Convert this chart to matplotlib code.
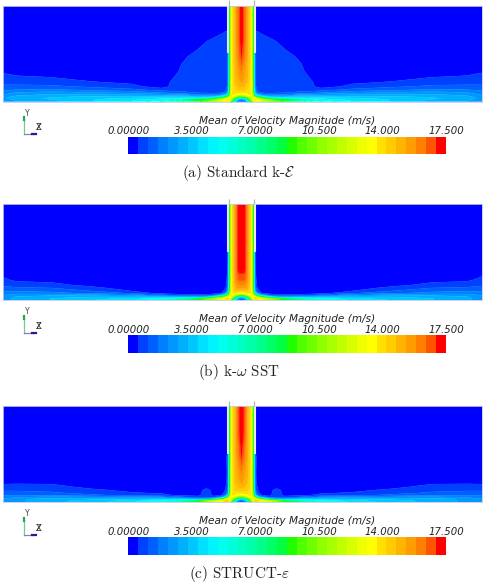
import matplotlib
matplotlib.use('Agg')
import matplotlib.pyplot as plt
import numpy as np
from matplotlib.colors import BoundaryNorm, ListedColormap

W, H = 486, 588

# velocity scale, 32 bands
V_MAX = 17.5
BAND_COLORS = [
    '#0000ff', '#0040ff', '#0060ff', '#0080ff', '#0098ff', '#00b0ff', '#00c8ff', '#00e0ff',
    '#00f4ff', '#00ffee', '#00ffd8', '#00ffc0', '#00ffa8', '#00ff88', '#00ff66', '#00ff40',
    '#20ff00', '#50ff00', '#70ff00', '#90ff00', '#a8ff00', '#c0ff00', '#d8ff00', '#f0ff00',
    '#ffff00', '#ffe000', '#ffcc00', '#ffb400', '#ff9c00', '#ff8000', '#ff5500', '#ff0000',
]
TICK_VALUES = [0.0, 3.5, 7.0, 10.5, 14.0, 17.5]
TICK_LABELS = ['0.00000', '3.5000', '7.0000', '10.500', '14.000', '17.500']

# sampling stations: distance from the jet axis, height above the plate
R = [0, 3, 6, 9, 11, 12.5, 14, 16, 20, 28, 35, 43, 60, 70, 80, 110, 150, 190, 225, 241]
Z = [0, 1.5, 3, 5, 7, 9, 12, 15, 20, 30, 45, 60, 72, 96]

# mean velocity magnitude, one row per height in Z, one column per station in R
SPEED_KE = [
    [1, 1.5, 4, 7, 10, 12.5, 13, 12.5, 11.5, 10, 9, 8.5, 7, 6, 5.5, 4.4, 3.8, 3.2, 2.8, 2.4],
    [1.5, 2.5, 5.5, 10, 12.5, 14, 14, 13.5, 12.5, 11, 9.5, 9, 6.5, 5.6, 5, 4.3, 3.8, 3.2, 2.8, 2.4],
    [3.5, 4.5, 8, 11, 13, 13.5, 13, 12, 10, 7.5, 6, 5.5, 4.8, 4.4, 4.3, 4, 3.7, 3.4, 3, 2.6],
    [9.5, 10, 11.5, 12.5, 12.5, 11, 9, 7, 5, 3.2, 3, 3, 3.5, 3.4, 3.4, 3.4, 3.3, 3.2, 2.9, 2.4],
    [13, 13, 13.5, 14, 12, 8, 5, 3, 2, 1.4, 1.5, 1.6, 2.2, 2.2, 2.4, 2.6, 2.7, 2.8, 2.5, 2.1],
    [14, 14, 14, 14, 11.5, 6, 2.5, 1.2, 1, .9, 1, 1, 1.3, 1.4, 1.6, 2, 2.2, 2.4, 2.2, 1.9],
    [14.5, 14.5, 14.2, 14, 11, 5.5, 1.5, 1, .8, .8, .8, .8, .8, .75, .8, 1.2, 1.4, 1.7, 1.6, 1.5],
    [15, 14.8, 14.4, 14, 11, 5, 1.2, .8, .8, .8, .8, .8, .8, .65, .3, .7, 1, 1.2, 1.2, 1.2],
    [15.5, 15.2, 14.8, 14, 11, 5, 1, .8, .8, .8, .8, .8, .8, .6, .2, .4, .55, .8, .9, .9],
    [16, 15.5, 15, 14, 11, 5, .8, .8, .8, .8, .8, .8, .7, .2, .2, .2, .2, .2, .3, .5],
    [17, 16.2, 15.2, 14, 11, 5, .8, .8, .8, .8, .8, .8, .4, .2, .2, .2, .2, .2, .2, .2],
    [17.4, 16.5, 15.2, 14, 11, 5, .8, .8, .8, .7, .55, .3, .2, .2, .2, .2, .2, .2, .2, .2],
    [17.4, 16.5, 15.2, 14, 11, 5, .5, .5, .4, .2, .2, .2, .2, .2, .2, .2, .2, .2, .2, .2],
    [17.4, 16.5, 15.2, 14, 11, 5, .2, .2, .2, .2, .2, .2, .2, .2, .2, .2, .2, .2, .2, .2],
]
SPEED_SST = [
    [1, 1.5, 4, 7, 10.5, 12.5, 13.5, 13.5, 12.5, 11, 10, 8.5, 7, 6, 5.5, 4.2, 3.8, 3.3, 2.9, 2.4],
    [1.5, 2.5, 5.5, 10, 12.5, 14, 14.5, 14, 13, 11.5, 10, 8.5, 6.5, 5.5, 5, 4, 3.6, 3.3, 2.9, 2.4],
    [3.5, 4.5, 8, 11, 13.5, 13.5, 13, 11.5, 9, 5.5, 3.5, 2.8, 3.2, 3.2, 3.3, 3.3, 3.3, 3.1, 2.8, 2.4],
    [9.5, 10, 12, 13, 12.5, 11, 9, 6, 3, 1, .7, .65, .8, 1, 1.3, 2, 2.4, 2.6, 2.5, 2.1],
    [13.5, 13.5, 14, 14, 12, 8, 4.5, 1.7, .55, .3, .2, .2, .2, .2, .3, 1, 1.5, 1.8, 1.9, 1.8],
    [14.5, 14.5, 14.5, 14, 11.5, 6, 2, .9, .3, .2, .2, .2, .2, .2, .2, .55, 1.1, 1.5, 1.6, 1.6],
    [15.5, 15.5, 15.2, 14, 11, 5.5, 1.3, .55, .2, .2, .2, .2, .2, .2, .2, .3, .7, 1.1, 1.2, 1.3],
    [16, 15.8, 15.4, 14, 11, 5, 1, .3, .2, .2, .2, .2, .2, .2, .2, .2, .4, .7, .8, 1],
    [16.5, 16.5, 15.8, 14, 11, 5, .8, .2, .2, .2, .2, .2, .2, .2, .2, .2, .2, .4, .45, .7],
    [17.2, 17.2, 16, 14, 11, 5, .55, .2, .2, .2, .2, .2, .2, .2, .2, .2, .2, .2, .2, .3],
    [17.4, 17.2, 16, 14, 11, 5, .2, .2, .2, .2, .2, .2, .2, .2, .2, .2, .2, .2, .2, .2],
    [17.4, 17.2, 16, 14, 11, 5, .2, .2, .2, .2, .2, .2, .2, .2, .2, .2, .2, .2, .2, .2],
    [17.4, 17.2, 16, 14, 11, 5, .2, .2, .2, .2, .2, .2, .2, .2, .2, .2, .2, .2, .2, .2],
    [17.4, 17.2, 16, 14, 11, 5, .2, .2, .2, .2, .2, .2, .2, .2, .2, .2, .2, .2, .2, .2],
]
SPEED_STRUCT = [
    [1, 1.5, 4, 7, 10, 12.5, 14, 14, 13, 12, 10.5, 8.5, 7, 6, 5.5, 4.2, 3.6, 3.1, 2.6, 2.2],
    [1.5, 2.5, 5.5, 10, 12.5, 14, 14.5, 14.5, 13.5, 12, 10.5, 8.5, 6.5, 5.5, 5, 4, 3.5, 3.1, 2.6, 2.2],
    [3.5, 4.5, 8, 11, 13.5, 13.5, 13, 11.5, 8, 4.5, 3, 2.6, 3.6, 3.4, 3.5, 3.2, 3.1, 3, 2.6, 2.2],
    [9.5, 10, 12, 13, 12.5, 11, 8.5, 5, 2, .7, .8, .7, 1.2, 1.5, 1.8, 2, 2.2, 2.3, 2.1, 1.9],
    [13, 13, 13.5, 14, 12, 8, 4, 1.5, .55, .4, .9, .4, .4, .55, .7, .9, 1.2, 1.5, 1.6, 1.5],
    [14, 14, 14, 14, 11.5, 6, 1.7, .8, .3, .35, .9, .35, .2, .3, .5, .6, .9, 1.2, 1.3, 1.3],
    [14.5, 14.5, 14.4, 14, 11, 5.5, 1.2, .6, .2, .3, .8, .3, .2, .2, .2, .4, .65, .9, 1, 1],
    [15, 14.8, 14.6, 14, 11, 5, 1, .5, .2, .2, .3, .2, .2, .2, .2, .2, .4, .75, .8, .75],
    [15.5, 15.2, 14.8, 14, 11, 5, .8, .2, .2, .2, .2, .2, .2, .2, .2, .2, .2, .4, .4, .4],
    [16, 15.5, 15, 14, 11, 5, .7, .2, .2, .2, .2, .2, .2, .2, .2, .2, .2, .2, .2, .2],
    [17, 16.2, 15.2, 14, 11, 5, .7, .4, .2, .2, .2, .2, .2, .2, .2, .2, .2, .2, .2, .2],
    [17.4, 16.5, 15.2, 14, 11, 5, .2, .2, .2, .2, .2, .2, .2, .2, .2, .2, .2, .2, .2, .2],
    [17.4, 16.8, 15.2, 14, 11, 5, .2, .2, .2, .2, .2, .2, .2, .2, .2, .2, .2, .2, .2, .2],
    [17.4, 16.8, 15.2, 14, 11, 5, .2, .2, .2, .2, .2, .2, .2, .2, .2, .2, .2, .2, .2, .2],
]

CASES = [SPEED_KE, SPEED_SST, SPEED_STRUCT]
CAPTIONS = ['(a) Standard k-$\\mathcal{E}$', '(b) k-$\\omega$ SST', '(c) STRUCT-$\\varepsilon$']
# vertical offset of each block on the page
OFFSETS = [0, 198.5, 400.5]

NOZZLE_HALF_WIDTH = 12.5
NOZZLE_EXIT = 48.5

plt.rcParams['mathtext.fontset'] = 'cm'

fig = plt.figure(figsize=(W / 100, H / 100), dpi=100)
cmap = ListedColormap(BAND_COLORS)
levels = np.linspace(0, V_MAX, len(BAND_COLORS) + 1)
norm = BoundaryNorm(levels, cmap.N)


def axes_px(left, top, right, bottom):
    return fig.add_axes([left / W, 1 - bottom / H, (right - left) / W, (bottom - top) / H])


def draw_field(ax, speed):
    r = np.array(R, dtype=float)
    z = np.array(Z, dtype=float)
    half = np.array(speed, dtype=float)
    # the jet is axisymmetric, mirror the half plane about the axis
    x = np.concatenate([-r[:0:-1], r])
    field = np.hstack([half[:, :0:-1], half])
    cs = ax.contourf(x, z, field, levels=levels, cmap=cmap, norm=norm, antialiased=True)
    cs.set_edgecolor('face')
    cs.set_linewidth(0.25)
    ax.set_xlim(-238.5, 240.5)
    ax.set_ylim(0, 96)
    ax.set_xticks([])
    ax.set_yticks([])
    for spine in ax.spines.values():
        spine.set_color('#c4c8ee')
        spine.set_linewidth(0.6)

    # nozzle walls, they stick out above the domain
    for sign in (-1, 1):
        wall = NOZZLE_HALF_WIDTH + 0.8
        ax.plot([sign * wall] * 2, [NOZZLE_EXIT, 96], color='#e8e8f0', lw=1.5,
                solid_capstyle='butt', zorder=3)
        ax.plot([sign * (NOZZLE_HALF_WIDTH - 0.3)] * 2, [96, 101.5], color='#b4b4b4', lw=0.9,
                solid_capstyle='butt', clip_on=False, zorder=3)


def draw_colorbar(ax):
    edges = np.array([levels, levels])
    ax.pcolormesh(edges, [[0] * len(levels), [1] * len(levels)], np.array([levels[:-1] + 0.01]),
                  cmap=cmap, norm=norm)
    ax.set_xlim(0, V_MAX)
    ax.set_ylim(0, 1)
    ax.set_yticks([])
    ax.set_xticks(TICK_VALUES)
    ax.set_xticklabels(TICK_LABELS, fontsize=7.3, style='italic', color='#222222')
    ax.xaxis.tick_top()
    ax.tick_params(axis='x', length=0, pad=0.3)
    for spine in ax.spines.values():
        spine.set_visible(False)
    ax.set_title('Mean of Velocity Magnitude (m/s)', fontsize=7.6, style='italic',
                 color='#222222', pad=9.5)


def draw_triad(page, dy):
    ox, oy = 23.7, 134.3 + dy
    page.plot([ox, ox], [oy, oy - 15], color='#6ccf8c', lw=0.9)
    page.plot([ox, ox], [oy - 14, oy - 17], color='#2f9f55', lw=1.6)
    page.plot([ox, ox + 9], [oy, oy], color='#8a78c8', lw=0.9)
    page.plot([ox + 8, ox + 12.5], [oy, oy], color='#2a1a9a', lw=1.6)
    page.text(ox + 3.6, oy - 21, 'Y', fontsize=5.6, color='#444444', ha='center', va='center')
    page.text(ox + 14.6, oy - 6.6, 'X', fontsize=6, color='#333333', ha='center', va='center')
    page.text(ox + 14.6, oy - 6.6, 'Z', fontsize=6, color='#333333', ha='center', va='center')


page = fig.add_axes([0, 0, 1, 1])
page.set_xlim(0, W)
page.set_ylim(H, 0)
page.axis('off')

for speed, caption, dy in zip(CASES, CAPTIONS, OFFSETS):
    draw_field(axes_px(3, 5.5 + dy, 482, 101.5 + dy), speed)
    draw_colorbar(axes_px(128.3, 136.7 + dy, 446, 154.3 + dy))
    draw_triad(page, dy)
    page.text(239, 173 + dy, caption, fontsize=10.9, family='cmr10', ha='center', va='center',
              color='#222222')

fig.savefig('out.png', dpi=100)
plt.close(fig)
